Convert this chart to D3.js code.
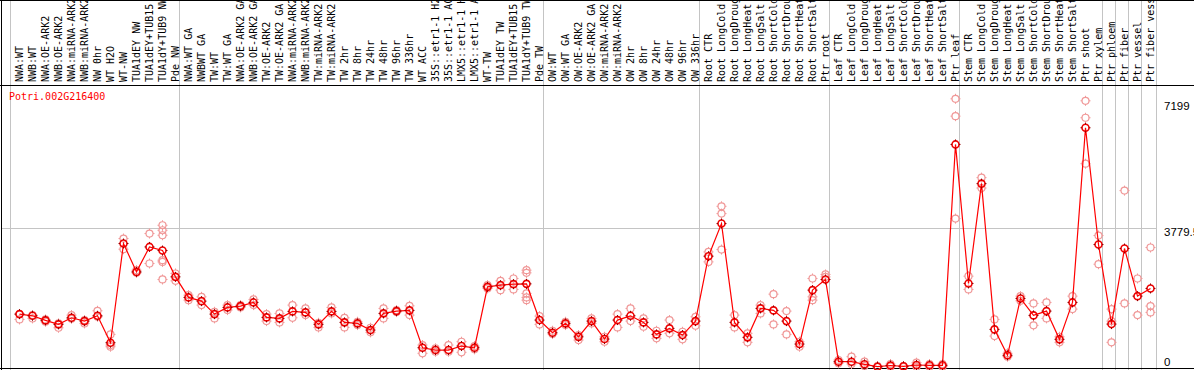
<!DOCTYPE html>
<html>
<head>
<meta charset="utf-8">
<script src="https://cdn.jsdelivr.net/npm/d3@7"></script>
<style>
  body { margin: 0; background: #fff; }
  svg { display: block; }
</style>
</head>
<body>
<script>
const width = 1194;
const height = 370;

const geneId = "Potri.002G216400";

// sample labels as shown (cut to 14 chars like the source)
const samples = [
  "NWA:WT", "NWB:WT", "NWA:OE-ARK2", "NWB:OE-ARK2", "NWA:miRNA-ARK2", "NWB:miRNA-ARK2",
  "NW 0hr", "WT H2O", "WT-NW", "TUA1dEY NW", "TUA1dEY+TUB15", "TUA1dY+TUB9 NW", "Pde NW",
  "NWA:WT GA", "NWBWT GA", "TW:WT", "TW:WT GA", "NWA:OE-ARK2 GA", "NWB:OE-ARK2 GA",
  "TW:OE-ARK2", "TW:OE-ARK2 GA", "NWA:miRNA-ARK2", "NWB:miRNA-ARK2", "TW:miRNA-ARK2",
  "TW:miRNA-ARK2", "TW 2hr", "TW 8hr", "TW 24hr", "TW 48hr", "TW 96hr", "TW 336hr",
  "WT ACC", "35S::etr1-1 H2", "35S::etr1-1 AC", "LMX5::etr1-1 H", "LMX5::etr1-1 A",
  "WT-TW", "TUA1dEY TW", "TUA1dEY+TUB15", "TUA1dY+TUB9 TW", "Pde TW",
  "OW:WT", "OW:WT GA", "OW:OE-ARK2", "OW:OE-ARK2 GA", "OW:miRNA-ARK2", "OW:miRNA-ARK2",
  "OW 2hr", "OW 8hr", "OW 24hr", "OW 48hr", "OW 96hr", "OW 336hr",
  "Root CTR", "Root LongCold", "Root LongDroug", "Root LongHeat", "Root LongSalt",
  "Root ShortCold", "Root ShortDrou", "Root ShortHeat", "Root ShortSalt", "Ptr root",
  "Leaf CTR", "Leaf LongCold", "Leaf LongDroug", "Leaf LongHeat", "Leaf LongSalt",
  "Leaf ShortCold", "Leaf ShortDrou", "Leaf ShortHeat", "Leaf ShortSalt", "Ptr leaf",
  "Stem CTR", "Stem LongCold", "Stem LongDroug", "Stem LongHeat", "Stem LongSalt",
  "Stem ShortCold", "Stem ShortDrou", "Stem ShortHeat", "Stem ShortSalt", "Ptr shoot", "Ptr xylem",
  "Ptr phloem", "Ptr fiber", "Ptr vessel", "Ptr fiber vess"
];

// index where each sample group starts (grey separators)
const groupStarts = [0, 13, 41, 53, 63, 73, 84, 85, 86, 87, 88];

// mean expression per sample
const means = [
  1438, 1392, 1267, 1159, 1338, 1248, 1392, 660, 3357, 2586, 3265, 3167, 2451,
  1892, 1791, 1438, 1620, 1656, 1756, 1349, 1322, 1512, 1485, 1159, 1512, 1213, 1186,
  1004, 1457, 1520, 1539, 524, 461, 461, 570, 524, 2179, 2225, 2253, 2261, 1276,
  931, 1186, 820, 1248, 760, 1276, 1392, 1213, 887, 1050, 868, 1248,
  3013, 3900, 1213, 806, 1593, 1539, 1248, 624, 2090, 2380,
  144, 144, 73, 8, 41, 19, 54, 46, 46, 6052,
  2272, 4986, 1023, 318, 1864, 1403, 1520, 752, 1756, 6505, 3330,
  1167, 3222, 1927, 2136
];

// individual replicates per sample
const replicates = [
  [1438, 1293], [1411, 1322], [1293, 1230], [1186, 1067], [1411, 1311], [1276, 1186],
  [1528, 1365], [887, 597, 551], [3493, 3203], [2633, 2560], [3629, 2814],
  [3854, 3718, 3582, 2904, 2858, 2380], [2543, 2342],
  [1954, 1818], [1908, 1683], [1501, 1322], [1683, 1547], [1683, 1620], [1837, 1683],
  [1438, 1248], [1457, 1213], [1683, 1338], [1593, 1411], [1202, 1077], [1620, 1457],
  [1338, 1077], [1230, 1140], [1067, 942], [1593, 1322], [1547, 1493], [1664, 1411],
  [597, 372], [508, 415], [597, 415], [687, 399], [570, 480], [2225, 2136],
  [2342, 2090], [2407, 2109], [2633, 2560, 2000, 1892, 1818], [1384, 1159],
  [985, 896], [1230, 1140], [868, 733], [1322, 1186], [822, 687], [1438, 1077],
  [1593, 1248], [1322, 1094], [985, 779], [1276, 915], [958, 752], [1365, 1121],
  [3129, 2858], [4370, 4171, 3194], [1411, 1077], [915, 670], [1683, 1457],
  [1981, 1159], [1520, 887], [687, 551], [2407, 1908, 1818], [2516, 2451],
  [190, 100], [280, 81], [144, 27], [27, 0], [81, 8], [27, 0], [117, 8], [81, 8], [81, 8],
  [7293, 6821, 4036],
  [2470, 2109], [5149, 4866], [1293, 841], [372, 280], [1927, 1800], [1729, 1132],
  [1756, 1322], [822, 670], [1927, 1574], [7238, 6777, 5528], [3574, 2795],
  [1574, 1248, 670], [4796, 1729], [2407, 1411], [3249, 1656, 1485]
];

const yTicks = [0, 3779.5, 7199];
const gridValues = [3779.5];

const headerBottom = 85;
const plotLeft = 10;
const plotRight = 1154;

const svg = d3.select("body").append("svg")
  .attr("width", width)
  .attr("height", height);

svg.append("rect")
  .attr("width", width)
  .attr("height", height)
  .attr("fill", "white");

const x = d3.scaleBand()
  .domain(d3.range(samples.length))
  .range([plotLeft, plotRight])
  .paddingInner(0).paddingOuter(0);

const cx = i => x(i) + 9.5;

const y = d3.scaleLinear()
  .domain([0, 3779.5])
  .range([367, 228]);

// grey group separators
svg.append("g")
  .selectAll("line")
  .data(groupStarts)
  .join("line")
  .attr("x1", d => (d < samples.length ? x(d) : plotRight + 2) + 0.5)
  .attr("x2", d => (d < samples.length ? x(d) : plotRight + 2) + 0.5)
  .attr("y1", 0)
  .attr("y2", height)
  .attr("stroke", "#c4c4c4")
  .attr("stroke-width", 1);

// horizontal grid
svg.append("g")
  .selectAll("line")
  .data(gridValues)
  .join("line")
  .attr("x1", 1)
  .attr("x2", plotRight + 2.5)
  .attr("y1", d => Math.round(y(d)) + 0.5)
  .attr("y2", d => Math.round(y(d)) + 0.5)
  .attr("stroke", "#c4c4c4")
  .attr("stroke-width", 1);

// frame lines
svg.append("line").attr("x1", 1.5).attr("x2", 1.5).attr("y1", 0).attr("y2", height)
  .attr("stroke", "black");
svg.append("line").attr("x1", 0).attr("x2", width).attr("y1", 0.5).attr("y2", 0.5)
  .attr("stroke", "black");
svg.append("line").attr("x1", 0).attr("x2", width).attr("y1", headerBottom + 0.5).attr("y2", headerBottom + 0.5)
  .attr("stroke", "black");
svg.append("line").attr("x1", 0).attr("x2", width).attr("y1", height - 1.5).attr("y2", height - 1.5)
  .attr("stroke", "black");

// sample labels
svg.append("g")
  .selectAll("text")
  .data(samples)
  .join("text")
  .attr("transform", (d, i) => `translate(${cx(i)},${headerBottom - 3}) rotate(-90)`)
  .attr("dy", "0.35em")
  .attr("font-family", "DejaVu Sans Mono, monospace")
  .attr("font-size", "10px")
  .attr("fill", "black")
  .text(d => d);

// gene id
svg.append("text")
  .attr("x", 9)
  .attr("y", 100)
  .attr("font-family", "DejaVu Sans Mono, monospace")
  .attr("font-size", "10px")
  .attr("fill", "#ff0000")
  .text(geneId);

// y tick labels on the right
svg.append("g")
  .selectAll("text")
  .data(yTicks)
  .join("text")
  .attr("x", 1164)
  .attr("y", d => Math.min(y(d) + 4, 362))
  .attr("dy", "0.35em")
  .attr("font-family", "Liberation Sans, Arial, sans-serif")
  .attr("font-size", "11.5px")
  .attr("fill", "black")
  .text(d => d);

function stubs(px, py, r) {
  const s = 1.5;
  return `M${px},${py - r - s}v${s}M${px},${py + r}v${s}M${px - r - s},${py}h${s}M${px + r},${py}h${s}`;
}

const reps = replicates.flatMap((vals, i) => vals.map(v => ({i, v})));
const r = 3.5;

const repG = svg.append("g");
repG.selectAll("circle")
  .data(reps)
  .join("circle")
  .attr("cx", d => cx(d.i))
  .attr("cy", d => y(d.v))
  .attr("r", r)
  .attr("fill", "none")
  .attr("stroke", "#f09898")
  .attr("stroke-width", 1.2);
repG.selectAll("path")
  .data(reps)
  .join("path")
  .attr("d", d => stubs(cx(d.i), y(d.v), r))
  .attr("stroke", "#f09898")
  .attr("stroke-width", 1);

const line = d3.line()
  .x((d, i) => cx(i))
  .y(d => y(d));

svg.append("path")
  .datum(means)
  .attr("d", line)
  .attr("fill", "none")
  .attr("stroke", "#ff0000")
  .attr("stroke-width", 1.2);

const meanG = svg.append("g");
meanG.selectAll("circle")
  .data(means)
  .join("circle")
  .attr("cx", (d, i) => cx(i))
  .attr("cy", d => y(d))
  .attr("r", r)
  .attr("fill", "none")
  .attr("stroke", "#ee0000")
  .attr("stroke-width", 1.6);
meanG.selectAll("path")
  .data(means)
  .join("path")
  .attr("d", (d, i) => stubs(cx(i), y(d), r))
  .attr("stroke", "#900000")
  .attr("stroke-width", 1);
</script>
</body>
</html>
